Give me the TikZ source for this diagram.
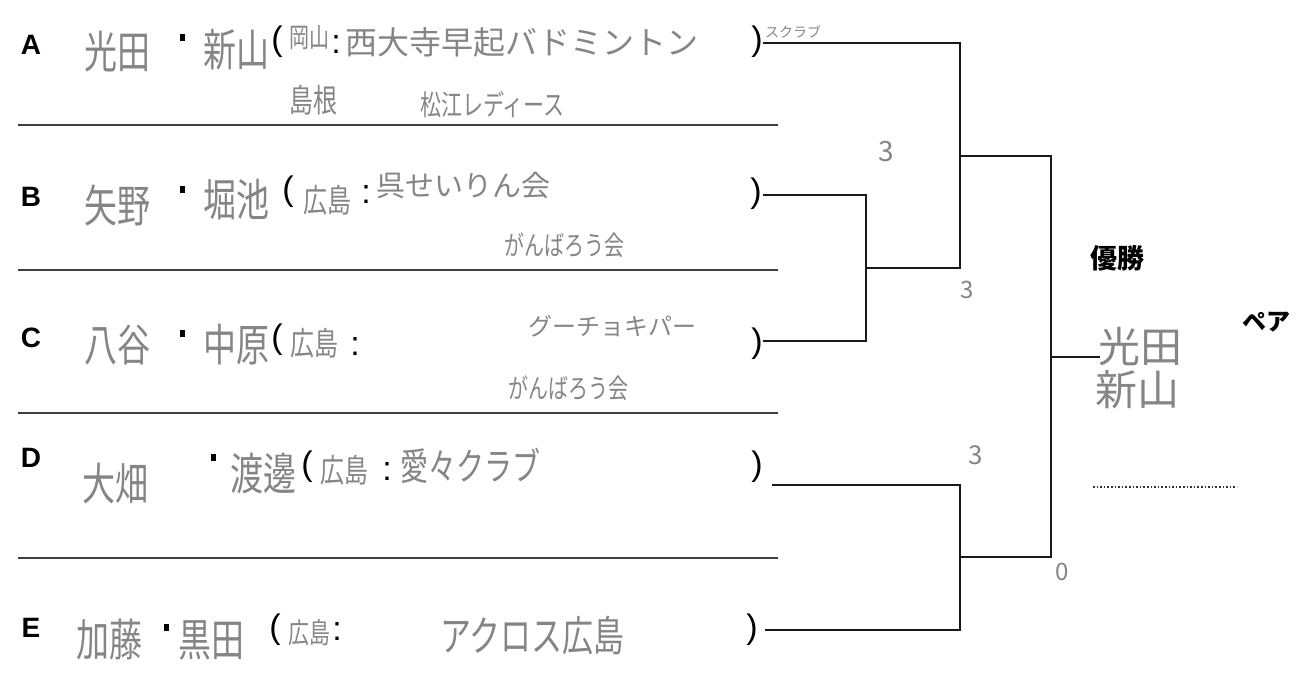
\documentclass[tikz,border=0pt]{standalone}
\usepackage{graphicx}
\usepackage{fontspec}
\setsansfont{Liberation Sans}
\newfontfamily\jp{Noto Sans CJK JP}
\usetikzlibrary{positioning}
\definecolor{pencil}{gray}{0.52}
\newcommand{\fsz}[1]{\fontsize{#1}{#1}\selectfont}
\newcommand{\tall}[1]{\scalebox{1}[1.35]{#1}}

\begin{document}
\begin{tikzpicture}[x=1pt, y=-1pt,
    letter/.style={font=\sffamily\bfseries\fsz{28}, inner sep=0},
    hand/.style={font=\jp\fsz{33}, text=pencil, inner sep=0, anchor=west},
    pref/.style={hand, font=\jp\fsz{24}},
    club/.style={hand, font=\jp\fsz{28}},
    tinyhand/.style={hand, font=\jp\fsz{14}},
    prt/.style={font=\sffamily\fsz{34}, inner sep=0},
    dotmark/.style={fill=black, minimum width=5pt, minimum height=7pt, inner sep=0},
    rule/.style={line width=1.6pt, black!75},
    bracket/.style={line width=2.8pt, black!90}
]
\useasboundingbox (0,0) rectangle (1303,697);

% row separators
\foreach \y in {125,270,413,558}
  \draw[rule] (18,\y) -- (778,\y);

% A
\node[letter] (la) at (31,45) {A};
\node[hand] (na1) at (84,52) {\tall{光田}};
\node[dotmark] (da) at (182,37) {};
\node[hand] (na2) at (203,50) {\tall{新山}};
\node[prt] (pa) at (277,42) {(};
\node[pref, font=\jp\fsz{20}] (prefa) at (289,38) {\tall{岡山}};
\node[prt] (ca) at (336,45) {:};
\node[club, font=\jp\fsz{32}] (cluba) at (345,42) {西大寺早起バドミントン};
\node[prt] (qa) at (757,42) {)};
\node[tinyhand] (clubax) at (765,32) {スクラブ};
\node[pref] (prefa2) at (289,100) {\tall{島根}};
\node[club, font=\jp\fsz{21}] (cluba2) at (420,105) {\tall{松江レディース}};

% B
\node[letter] (lb) at (31,197) {B};
\node[hand] (nb1) at (84,205) {\tall{矢野}};
\node[dotmark] (db) at (182,189) {};
\node[hand] (nb2) at (203,200) {\tall{堀池}};
\node[prt] (pb) at (288,192) {(};
\node[pref] (prefb) at (303,200) {\tall{広島}};
\node[prt] (cb) at (366,195) {:};
\node[club, font=\jp\fsz{29}] (clubb) at (376,186) {呉せいりん会};
\node[prt] (qb) at (756,194) {)};
\node[club, font=\jp\fsz{20}] (clubb2) at (504,245) {\tall{がんばろう会}};

% C
\node[letter] (lc) at (31,338) {C};
\node[hand] (nc1) at (84,345) {\tall{八谷}};
\node[dotmark] (dc) at (182,333) {};
\node[hand] (nc2) at (203,345) {\tall{中原}};
\node[prt] (pc) at (277,340) {(};
\node[pref] (prefc) at (290,343) {\tall{広島}};
\node[prt] (cc) at (355,347) {:};
\node[club, font=\jp\fsz{24}] (clubc) at (528,326) {グーチョキパー};
\node[prt] (qc) at (757,344) {)};
\node[club, font=\jp\fsz{20}] (clubc2) at (508,388) {\tall{がんばろう会}};

% D
\node[letter] (ld) at (31,458) {D};
\node[hand] (nd1) at (82,484) {\tall{大畑}};
\node[dotmark] (dd) at (213,457) {};
\node[hand] (nd2) at (230,473) {\tall{渡邊}};
\node[prt] (pd) at (307,467) {(};
\node[pref] (prefd) at (320,470) {\tall{広島}};
\node[prt] (cd) at (387,472) {:};
\node[club] (clubd) at (400,466) {\tall{愛々クラブ}};
\node[prt] (qd) at (757,467) {)};

% E
\node[letter] (le) at (31,628) {E};
\node[hand] (ne1) at (76,640) {\tall{加藤}};
\node[dotmark] (de) at (166,627) {};
\node[hand] (ne2) at (178,640) {\tall{黒田}};
\node[prt] (pe) at (275,630) {(};
\node[pref, font=\jp\fsz{21}] (prefe) at (288,633) {\tall{広島}};
\node[prt] (ce) at (337,632) {:};
\node[club, font=\jp\fsz{31}] (clube) at (440,636) {\tall{アクロス広島}};
\node[prt] (qe) at (752,630) {)};

% bracket points
\coordinate (ea) at (763,43);
\coordinate (eb) at (763,195);
\coordinate (ec) at (763,341);
\coordinate (ed) at (772,485);
\coordinate (ee) at (765,630);
\coordinate (qbc) at (866,268);
\coordinate (abc) at (960,268);
\coordinate (sa) at (960,156);
\coordinate (qde) at (960,557);
\coordinate (fin) at (1051,357);
\coordinate (win) at (1100,357);

\draw[bracket] (ea) -| (abc) -- (qbc);
\draw[bracket] (eb) -| (qbc);
\draw[bracket] (ec) -| (qbc);
\draw[bracket] (ed) -| (qde);
\draw[bracket] (ee) -| (qde);
\draw[bracket] (sa) -| (fin);
\draw[bracket] (qde) -| (fin);
\draw[bracket] (fin) -- (win);

% scores
\node[hand, font=\jp\fsz{28}] (sb) at (878,152) {3};
\node[hand, font=\jp\fsz{24}] (sbc) at (960,290) {3};
\node[hand, font=\jp\fsz{26}] (sd) at (968,455) {3};
\node[hand, font=\jp\fsz{24}] (sde) at (1055,572) {0};

% champion
\node[font=\jp\bfseries\fsz{27}, inner sep=0] (yusho) at (1117,258) {優勝};
\node[hand, font=\jp\fsz{42}] (w1) at (1098,347) {光田};
\node[hand, font=\jp\fsz{42}] (w2) at (1095,390) {新山};
\node[font=\jp\bfseries\fsz{24}, inner sep=0] (pair) at (1266,322) {ペア};
\coordinate (u1) at (1093,487);
\coordinate (u2) at (1237,487);
\draw[line width=1.6pt, dotted, black!80] (u1) -- (u2);
\end{tikzpicture}
\end{document}
